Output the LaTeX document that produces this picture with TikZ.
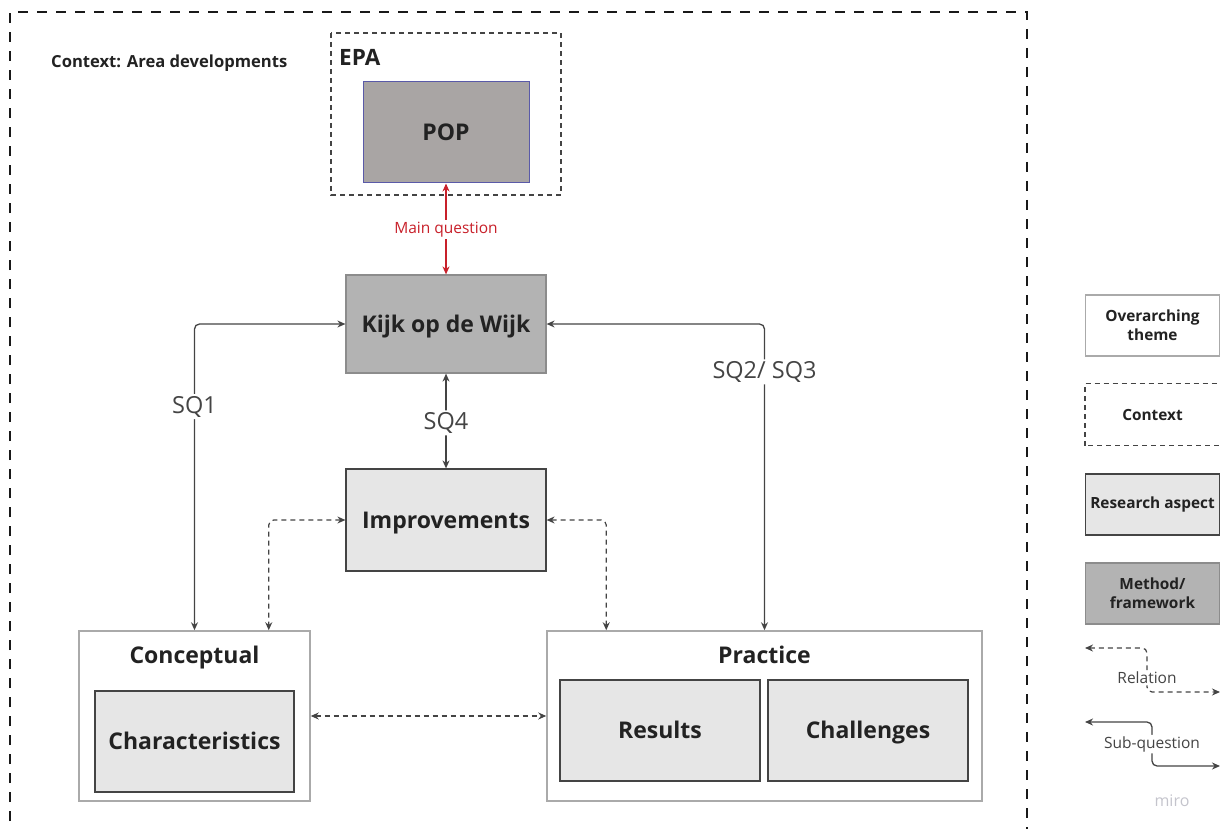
\documentclass[tikz,border=0pt]{standalone}
\usepackage{fontspec}
\setmainfont{Open Sans}
\usetikzlibrary{arrows.meta,positioning}

\definecolor{ink}{HTML}{222222}
\definecolor{wire}{HTML}{444444}
\definecolor{midgray}{HTML}{B3B3B3}
\definecolor{popfill}{HTML}{A9A5A4}
\definecolor{popedge}{HTML}{5A5AA8}
\definecolor{lightfill}{HTML}{E6E6E6}
\definecolor{paleedge}{HTML}{AAAAAA}
\definecolor{qred}{HTML}{C8202A}
\definecolor{mirogray}{HTML}{C4C4CC}

\tikzset{
  bigtext/.style={font=\bfseries\fontsize{23}{26}\selectfont, text height=16.6pt, text depth=0pt},
  box/.style={draw, rectangle, inner sep=0pt, line width=1.2pt, text=ink},
  aspect/.style={box, fill=lightfill, draw=wire},
  method/.style={box, fill=midgray, draw=black!45},
  theme/.style={box, fill=white, draw=paleedge, line width=1.5pt},
  ctxbox/.style={draw=wire, dashed, dash pattern=on 5pt off 4pt, line width=1.2pt},
  tips/.style={{Stealth[length=8pt,width=7pt]}-{Stealth[length=8pt,width=7pt]}},
  subq/.style={tips, draw=wire, line width=1.3pt, rounded corners=5pt},
  rel/.style={tips, draw=wire, line width=1.2pt, dash pattern=on 5pt off 4pt, rounded corners=5pt},
  sqlabel/.style={fill=white, text=wire, inner sep=2pt, font=\fontsize{23.5}{26}\selectfont},
  legbox/.style={minimum width=134pt, minimum height=61pt,
    font=\bfseries\fontsize{15.4}{21}\selectfont, align=center},
  leglabel/.style={fill=white, text=wire, inner sep=1.5pt, font=\fontsize{15.5}{18}\selectfont},
}

\begin{document}
\begin{tikzpicture}[x=1pt,y=-1pt]
\useasboundingbox (0,0) rectangle (1220,829);
\clip (0,0) rectangle (1220,829);

% outer context frame
\draw[black!90, line width=2.4pt, dash pattern=on 10pt off 9pt] (10,840) -- (10,12) -- (1027,12) -- (1027,840);
\node[anchor=west, inner sep=0pt, text=ink, font=\bfseries\fontsize{16.6}{19}\selectfont] (ctxtitle) at (51,63) {Context: Area developments};

% EPA context box with POP
\draw[ctxbox] (331,33) rectangle (561,195);
\node[anchor=west, inner sep=0pt, text=ink, font=\bfseries\fontsize{22.5}{26}\selectfont] (epa) at (339,57) {EPA};
\node[box, bigtext, fill=popfill, draw=popedge, line width=1pt, minimum width=166pt, minimum height=101pt] (pop) at (446,132.5) {POP};

% central method and improvements
\node[method, bigtext, minimum width=200pt, minimum height=98pt] (kijk) at (446,324) {Kijk op de Wijk};
\node[aspect, bigtext, minimum width=200pt, minimum height=102pt] (impr) at (446,520) {Improvements};

% conceptual side
\node[theme, minimum width=231pt, minimum height=170pt] (conc) at (194.5,716) {};
\node[text=ink, bigtext, inner sep=0pt] (conctitle) at (194.5,655) {Conceptual};
\node[aspect, bigtext, minimum width=199pt, minimum height=101pt] (char) at (194.5,741.5) {Characteristics};

% practice side
\node[theme, minimum width=435pt, minimum height=170pt] (prac) at (764.5,716) {};
\node[text=ink, bigtext, inner sep=0pt] (practitle) at (764.5,655) {Practice};
\node[aspect, bigtext, minimum width=200pt, minimum height=101pt] (res) at (660,730.5) {Results};
\node[aspect, bigtext, minimum width=200pt, minimum height=101pt] (chal) at (868,730.5) {Challenges};

% main question
\draw[tips, draw=qred, line width=1.3pt] (pop.south) -- node[fill=white, text=qred, inner sep=2pt, pos=0.51, font=\fontsize{15.5}{18}\selectfont] {Main question} (kijk.north);

% sub-questions
\draw[subq] (kijk.west) -| node[sqlabel, pos=0.635] {SQ1} (conc.north);
\draw[subq] (kijk.east) -| node[sqlabel, pos=0.578] {SQ2/ SQ3} (prac.north);
\draw[subq] (kijk.south) -- node[sqlabel, pos=0.52] {SQ4} (impr.north);

% relations
\draw[rel] (impr.west) -| ([xshift=-42pt]conc.north east);
\draw[rel] (impr.east) -| ([xshift=60pt]prac.north west);
\draw[rel] (conc.east) -- (prac.west);

% legend
\node[theme, legbox] (lgtheme) at (1152.5,325.5) {Overarching\\[-2pt]theme};
\node[box, legbox, draw=none] (lgctx) at (1152.5,414.5) {Context};
\draw[ctxbox] (lgctx.south west) rectangle (lgctx.north east);
\node[aspect, legbox] (lgasp) at (1152.5,504.5) {Research aspect};
\node[method, legbox] (lgmeth) at (1152.5,593.5) {Method/\\[-2pt]framework};

\coordinate (rela) at (1085,648);
\coordinate (relb) at (1220,692);
\draw[rel] (rela) -- (1147,648) -- node[leglabel, pos=0.68] {Relation} (1147,692) -- (relb);

\coordinate (sqa) at (1085,722);
\coordinate (sqb) at (1220,766);
\draw[subq] (sqa) -- (1152,722) -- node[leglabel] {Sub-question} (1152,766) -- (sqb);

\node[text=mirogray, font=\fontsize{16}{19}\selectfont] (miro) at (1172,801) {miro};
\end{tikzpicture}
\end{document}
